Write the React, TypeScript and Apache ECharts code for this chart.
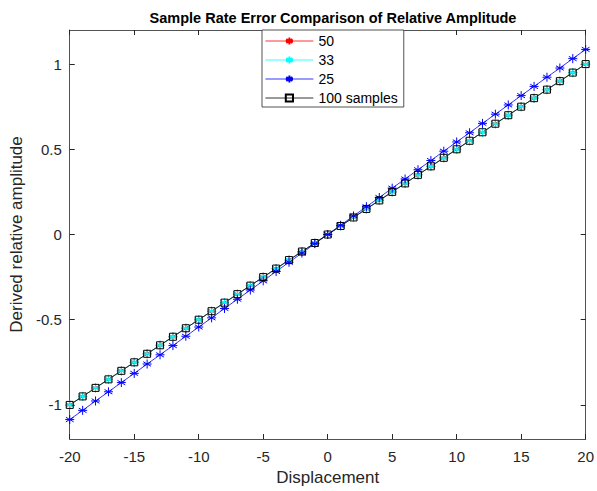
import React, { useEffect, useRef } from "react";
import * as echarts from "echarts";

const xValues = [-20,-19,-18,-17,-16,-15,-14,-13,-12,-11,-10,-9,-8,-7,-6,-5,-4,-3,-2,-1,0,1,2,3,4,5,6,7,8,9,10,11,12,13,14,15,16,17,18,19,20];
const s50 = [-1,-0.95,-0.9,-0.85,-0.8,-0.75,-0.7,-0.65,-0.6,-0.55,-0.5,-0.45,-0.4,-0.35,-0.3,-0.25,-0.2,-0.15,-0.1,-0.05,0,0.05,0.1,0.15,0.2,0.25,0.3,0.35,0.4,0.45,0.5,0.55,0.6,0.65,0.7,0.75,0.8,0.85,0.9,0.95,1];
const s33 = [-1,-0.95,-0.9,-0.85,-0.8,-0.75,-0.7,-0.65,-0.6,-0.55,-0.5,-0.45,-0.4,-0.35,-0.3,-0.25,-0.2,-0.15,-0.1,-0.05,0,0.05,0.1,0.15,0.2,0.25,0.3,0.35,0.4,0.45,0.5,0.55,0.6,0.65,0.7,0.75,0.8,0.85,0.9,0.95,1];
const s25 = [-1.086,-1.032,-0.977,-0.923,-0.869,-0.815,-0.76,-0.706,-0.652,-0.597,-0.543,-0.489,-0.434,-0.38,-0.326,-0.272,-0.217,-0.163,-0.109,-0.054,0,0.054,0.109,0.163,0.217,0.272,0.326,0.38,0.434,0.489,0.543,0.597,0.652,0.706,0.76,0.815,0.869,0.923,0.977,1.032,1.086];
const s100 = [-1,-0.95,-0.9,-0.85,-0.8,-0.75,-0.7,-0.65,-0.6,-0.55,-0.5,-0.45,-0.4,-0.35,-0.3,-0.25,-0.2,-0.15,-0.1,-0.05,0,0.05,0.1,0.15,0.2,0.25,0.3,0.35,0.4,0.45,0.5,0.55,0.6,0.65,0.7,0.75,0.8,0.85,0.9,0.95,1];
const yTicks = [-1, -0.5, 0, 0.5, 1];
const seriesNames = ["50", "33", "25", "100 samples"];

const STAR = "path://M5,0L5,10M0.7,2.5L9.3,7.5M0.7,7.5L9.3,2.5M0,5L10,5";
const TXT = "#262626";
const FONT = "'Liberation Sans', Arial, sans-serif";

export default function App() {
  const ref = useRef<HTMLDivElement>(null);
  useEffect(() => {
    const chart = echarts.init(ref.current!, null, { renderer: "svg" });
    const pair = (ys: number[]) => xValues.map((x, i) => [x, ys[i]]);
    const star = (name: string, color: string, ys: number[]) => ({
      name,
      type: "line",
      data: pair(ys),
      symbol: STAR,
      symbolSize: 9,
      lineStyle: { color, width: 0.8 },
      itemStyle: { color: "none", borderColor: color, borderWidth: 1 },
    });
    const axisLine = { show: true, onZero: false, lineStyle: { color: TXT, width: 0.8 } };
    chart.setOption({
      animation: false,
      backgroundColor: "#fff",
      textStyle: { fontFamily: FONT },
      title: {
        text: "Sample Rate Error Comparison of Relative Amplitude",
        left: 328,
        textAlign: "center",
        top: 5,
        textStyle: { fontSize: 14.5, fontWeight: "bold", color: "#000", fontFamily: FONT },
      },
      legend: {
        data: seriesNames,
        orient: "vertical",
        left: 262,
        top: 30,
        itemWidth: 48,
        itemHeight: 9,
        itemGap: 5,
        padding: [4, 6, 2, 3],
        backgroundColor: "#fff",
        borderColor: "#262626",
        borderWidth: 0.8,
        borderRadius: 0,
        lineStyle: { width: 0.8 },
        textStyle: { fontSize: 14, lineHeight: 14, color: "#000", fontFamily: FONT },
      },
      grid: { left: 68, right: 9, top: 30, bottom: 49 },
      xAxis: [
        {
          type: "value",
          min: -20,
          max: 20,
          interval: 5,
          name: "Displacement",
          nameLocation: "middle",
          nameGap: 30,
          nameTextStyle: { fontSize: 17, color: TXT, fontFamily: FONT },
          axisLine,
          axisTick: { inside: true, length: 5, lineStyle: { color: TXT } },
          axisLabel: { fontSize: 15, color: TXT, margin: 10, fontFamily: FONT },
          splitLine: { show: false },
        },
        {
          type: "value",
          min: -20,
          max: 20,
          interval: 5,
          position: "top",
          axisLine,
          axisTick: { show: true, inside: true, length: 5, lineStyle: { color: TXT } },
          axisLabel: { show: false },
          splitLine: { show: false },
        },
      ],
      yAxis: [
        {
          type: "value",
          min: -1.2,
          max: 1.2,
          name: "Derived relative amplitude",
          nameLocation: "middle",
          nameGap: 40,
          nameTextStyle: { fontSize: 17, color: TXT, fontFamily: FONT },
          axisLine,
          axisTick: { show: true, inside: true, length: 5, customValues: yTicks, lineStyle: { color: TXT } },
          axisLabel: {
            fontSize: 15,
            color: TXT,
            margin: 8,
            fontFamily: FONT,
            customValues: yTicks,
            formatter: (v: number) => String(Math.round(v * 10) / 10),
          },
          splitLine: { show: false },
        },
        {
          type: "value",
          min: -1.2,
          max: 1.2,
          position: "right",
          axisLine,
          axisTick: { show: true, inside: true, length: 5, customValues: yTicks, lineStyle: { color: TXT } },
          axisLabel: { show: false, customValues: yTicks },
          splitLine: { show: false },
        },
      ],
      series: [
        star(seriesNames[0], "#ff0000", s50),
        star(seriesNames[1], "#00ffff", s33),
        star(seriesNames[2], "#0000ff", s25),
        {
          name: seriesNames[3],
          type: "line",
          data: pair(s100),
          symbol: "rect",
          symbolSize: 7,
          lineStyle: { color: "#000", width: 0.8 },
          itemStyle: { color: "none", borderColor: "#000", borderWidth: 1 },
        },
      ],
    });
    return () => chart.dispose();
  }, []);
  return <div ref={ref} style={{ width: 597, height: 491, position: "absolute", left: 0, top: 0 }} />;
}
